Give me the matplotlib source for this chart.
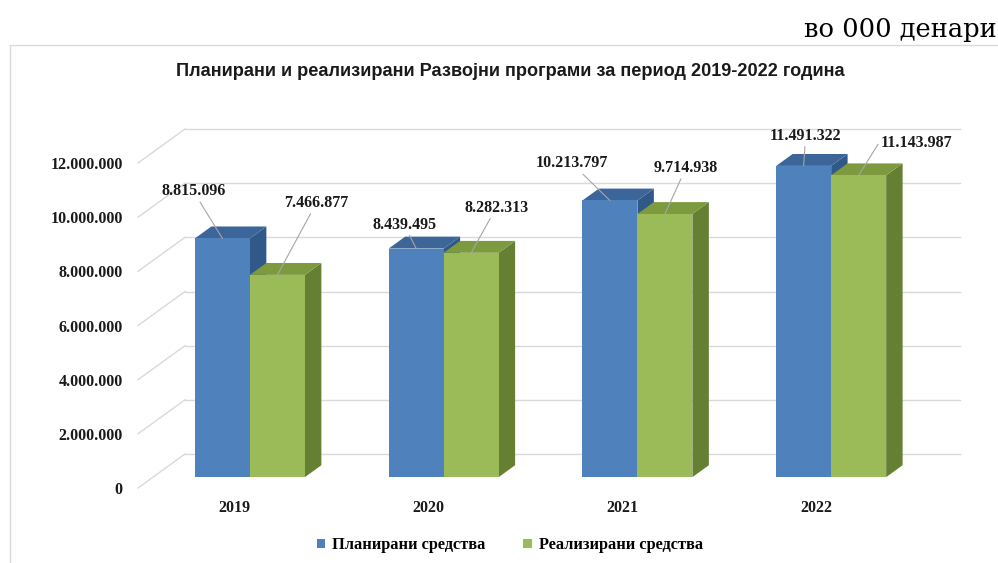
import matplotlib
matplotlib.use("Agg")
import matplotlib.pyplot as plt
from matplotlib.patches import Polygon, Rectangle

years = ["2019", "2020", "2021", "2022"]
planned = [8815096, 8439495, 10213797, 11491322]
realized = [7466877, 8282313, 9714938, 11143987]
series_names = ["Планирани средства", "Реализирани средства"]
y_ticks = [0, 2000000, 4000000, 6000000, 8000000, 10000000, 12000000]
title = "Планирани и реализирани Развојни програми за период 2019-2022 година"
unit_note = "во 000 денари"

# label offsets (pixels) from the top front edge of each bar
planned_label_offsets = [(-29, 47), (-12, 24), (-38, 37), (2, 30)]
realized_label_offsets = [(39, 72), (25, 45), (21, 46), (58, 32)]


def fmt(v):
    return f"{v:,}".replace(",", ".")


W, H = 998, 563
fig = plt.figure(figsize=(W / 100, H / 100), dpi=100)
fig.patch.set_facecolor("white")

SERIF = ["Liberation Serif", "DejaVu Serif"]
SANS = ["Liberation Sans", "DejaVu Sans"]

# chart frame
fig.patches.append(Rectangle((10 / W, -0.02), 1.0, (H - 45) / H + 0.02,
                             transform=fig.transFigure, fill=False,
                             edgecolor="#d9d9d9", lw=1.0))

ax = fig.add_axes([138 / W, (H - 488) / H, 775 / W, 325 / H])
n = len(years)
ax.set_xlim(0, n)
ax.set_ylim(0, 12e6)
for sp in ax.spines.values():
    sp.set_visible(False)
ax.patch.set_visible(False)

# oblique depth of the 3-D box, expressed in data units
DX = 47 / (775 / n)
DY = 34 * 12e6 / 325
D0, D1 = 0.32, 0.67      # depth slice occupied by the columns
BW = 55 / (775 / n)      # column width

GRID = "#d9d9d9"
for v in y_ticks:
    ax.plot([0, DX], [v, v + DY], color=GRID, lw=1.0, clip_on=False, zorder=1)
    ax.plot([DX, n + DX], [v + DY, v + DY], color=GRID, lw=1.0,
            clip_on=False, zorder=1)


def pt(x, v, d):
    return (x + d * DX, v + d * DY)


styles = [
    dict(front="#4f81bd", top="#3c6699", side="#30598a"),
    dict(front="#9bbb59", top="#7d9b3e", side="#657f33"),
]
series = [planned, realized]
offsets = [planned_label_offsets, realized_label_offsets]

for i in range(n):
    for s, vals in enumerate(series):
        v = vals[i]
        x0 = i + 0.5 - BW + s * BW
        x1 = x0 + BW
        st = styles[s]
        side = [pt(x1, 0, D0), pt(x1, 0, D1), pt(x1, v, D1), pt(x1, v, D0)]
        top = [pt(x0, v, D0), pt(x1, v, D0), pt(x1, v, D1), pt(x0, v, D1)]
        front = [pt(x0, 0, D0), pt(x1, 0, D0), pt(x1, v, D0), pt(x0, v, D0)]
        ax.add_patch(Polygon(side, closed=True, facecolor=st["side"],
                             edgecolor="none", clip_on=False, zorder=3))
        ax.add_patch(Polygon(top, closed=True, facecolor=st["top"],
                             edgecolor="none", clip_on=False, zorder=3))
        ax.add_patch(Polygon(front, closed=True, facecolor=st["front"],
                             edgecolor="none", clip_on=False, zorder=3,
                             label=series_names[s] if i == 0 else None))

        ox, oy = offsets[s][i]
        arrow = dict(arrowstyle="-", color="#a6a6a6", lw=0.8,
                     shrinkA=0, shrinkB=0)
        if i == n - 1 and s == 1:
            arrow.update(connectionstyle="angle,angleA=0,angleB=58,rad=0",
                         relpos=(0, 0.5))
        ax.annotate(fmt(v), xy=pt((x0 + x1) / 2, v, D0),
                    xytext=(ox, oy), textcoords="offset pixels",
                    ha="center", va="center", fontsize=11.5,
                    fontweight="bold", family=SERIF, color="#1a1a1a",
                    arrowprops=arrow, zorder=5, annotation_clip=False)

ax.set_yticks(y_ticks)
ax.set_yticklabels([fmt(v) for v in y_ticks], family=SERIF,
                   fontweight="bold", fontsize=11.5, color="#1a1a1a")
ax.set_xticks([i + 0.5 for i in range(n)])
ax.set_xticklabels(years, family=SERIF, fontweight="bold", fontsize=11.5,
                   color="#1a1a1a")
ax.tick_params(axis="y", length=0, pad=11)
ax.tick_params(axis="x", length=0, pad=9)

fig.text(510 / W, 1 - 72 / H, title, ha="center", va="center",
         fontsize=13.1, fontweight="bold", family=SANS, color="#1a1a1a")
fig.text(997 / W, 1 - 29 / H, unit_note, ha="right", va="center",
         fontsize=18.5, family=["DejaVu Serif"], color="black")

fig.legend(loc="center", bbox_to_anchor=(510 / W, 1 - 545 / H), ncol=2,
           frameon=False, handlelength=0.5, handleheight=0.5,
           handletextpad=0.45, columnspacing=2.3,
           prop=dict(family=SERIF, weight="bold", size=11.8))

fig.savefig("out.png", dpi=100, facecolor="white")
